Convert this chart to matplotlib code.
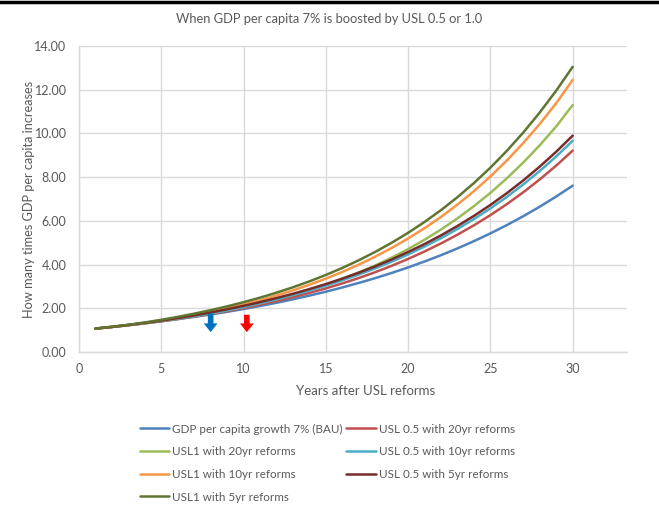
import matplotlib
matplotlib.use("Agg")
import matplotlib.pyplot as plt
from matplotlib.patches import FancyArrowPatch
from matplotlib.lines import Line2D

plt.rcParams['font.family'] = ['Lato', 'DejaVu Sans']

years = list(range(1, 31))

gdp_bau = [1.070, 1.145, 1.225, 1.311, 1.403, 1.501, 1.606, 1.718, 1.838, 1.967,
           2.105, 2.252, 2.410, 2.579, 2.759, 2.952, 3.159, 3.380, 3.617, 3.870,
           4.141, 4.430, 4.741, 5.072, 5.427, 5.807, 6.214, 6.649, 7.114, 7.612]
usl05_20 = [1.070, 1.146, 1.228, 1.316, 1.411, 1.514, 1.625, 1.744, 1.874, 2.015,
            2.167, 2.331, 2.509, 2.703, 2.911, 3.138, 3.385, 3.652, 3.943, 4.258,
            4.600, 4.968, 5.368, 5.797, 6.263, 6.765, 7.310, 7.897, 8.530, 9.215]
usl1_20 = [1.071, 1.147, 1.230, 1.321, 1.420, 1.528, 1.645, 1.773, 1.912, 2.066,
           2.234, 2.417, 2.618, 2.839, 3.081, 3.346, 3.640, 3.962, 4.317, 4.708,
           5.137, 5.604, 6.116, 6.673, 7.281, 7.946, 8.670, 9.461, 10.323, 11.300]
usl05_10 = [1.071, 1.147, 1.230, 1.321, 1.420, 1.527, 1.644, 1.771, 1.910, 2.063,
            2.229, 2.408, 2.601, 2.810, 3.035, 3.279, 3.543, 3.827, 4.134, 4.466,
            4.825, 5.211, 5.630, 6.081, 6.569, 7.097, 7.667, 8.282, 8.947, 9.665]
usl1_10 = [1.071, 1.149, 1.236, 1.332, 1.438, 1.555, 1.685, 1.829, 1.990, 2.170,
           2.368, 2.583, 2.819, 3.077, 3.356, 3.662, 3.996, 4.361, 4.759, 5.192,
           5.666, 6.181, 6.746, 7.360, 8.031, 8.763, 9.563, 10.435, 11.385, 12.450]
usl05_5 = [1.071, 1.149, 1.236, 1.331, 1.437, 1.552, 1.677, 1.811, 1.956, 2.113,
           2.283, 2.466, 2.664, 2.878, 3.109, 3.358, 3.628, 3.919, 4.234, 4.574,
           4.941, 5.337, 5.767, 6.228, 6.728, 7.268, 7.852, 8.483, 9.163, 9.899]
usl1_5 = [1.072, 1.154, 1.247, 1.353, 1.473, 1.608, 1.754, 1.914, 2.088, 2.279,
          2.487, 2.713, 2.961, 3.231, 3.525, 3.846, 4.197, 4.580, 4.998, 5.454,
          5.951, 6.492, 7.085, 7.730, 8.435, 9.204, 10.044, 10.960, 11.959, 13.049]

series_labels = ["GDP per capita growth 7% (BAU)", "USL 0.5 with 20yr reforms",
                 "USL1 with 20yr reforms", "USL 0.5 with 10yr reforms",
                 "USL1 with 10yr reforms", "USL 0.5 with 5yr reforms",
                 "USL1 with 5yr reforms"]
series_values = [gdp_bau, usl05_20, usl1_20, usl05_10, usl1_10, usl05_5, usl1_5]
series_colors = ["#4F81BD", "#C0504D", "#9BBB59", "#4BACC6", "#F79646", "#772C2A", "#5F7530"]

arrow_x = [8.0, 10.2]
arrow_top = [1.88, 1.83]
arrow_bottom = [0.78, 0.78]
arrow_colors = ["#0070C0", "#FF0000"]

x_ticks = [0, 5, 10, 15, 20, 25, 30]
y_ticks = [0, 2, 4, 6, 8, 10, 12, 14]

title = "When GDP per capita 7% is boosted by USL 0.5 or 1.0"
xlabel = "Years after USL reforms"
ylabel = "How many times GDP per capita increases"

text_color = "#595959"
grid_color = "#D9D9D9"

fig = plt.figure(figsize=(6.59, 5.14), dpi=100)
ax = fig.add_axes([79/659, 1 - 352/514, (627-79)/659, (352-46)/514])

handles = {}
for lab, vals, col in zip(series_labels, series_values, series_colors):
    ln, = ax.plot(years, vals, color=col, lw=1.8, solid_capstyle='round', zorder=3)
    handles[lab] = ln

for x, yt, yb, c in zip(arrow_x, arrow_top, arrow_bottom, arrow_colors):
    arr = FancyArrowPatch((x, yt), (x, yb),
                          arrowstyle="simple,head_width=1.1,head_length=0.7,tail_width=0.45",
                          mutation_scale=9, color=c, lw=0, zorder=5)
    ax.add_patch(arr)

ax.set_xlim(0, 33.3)
ax.set_ylim(0, 14)
ax.set_xticks(x_ticks)
ax.set_yticks(y_ticks)
ax.set_yticklabels([f"{v:.2f}" for v in y_ticks])
ax.grid(True, color=grid_color, lw=1)
ax.set_axisbelow(True)
for s in ["top", "right"]:
    ax.spines[s].set_visible(False)
for s in ["left", "bottom"]:
    ax.spines[s].set_color(grid_color)
    ax.spines[s].set_linewidth(1)
ax.tick_params(axis='y', length=0, labelsize=9, colors=text_color, pad=9)
ax.tick_params(axis='x', length=0, labelsize=9, colors=text_color, pad=8)

ax.set_xlabel(xlabel, fontsize=9.5, color=text_color)
ax.xaxis.set_label_coords((366 - 79) / 548, -(385 - 352) / 306)
ax.set_ylabel(ylabel, fontsize=9.2, color=text_color, va="center")
ax.yaxis.set_label_coords(-(79 - 29) / 548, 0.5)
fig.text(0.5, 1 - 19/514, title, ha="center", va="center", fontsize=9.3, color=text_color)

# top black border line
fig.add_artist(Line2D([0, 1], [1 - 1.5/514, 1 - 1.5/514], transform=fig.transFigure,
                      color="black", lw=2.5))

order = [0, 2, 4, 6, 1, 3, 5]
leg = fig.legend([handles[series_labels[i]] for i in order],
                 [series_labels[i] for i in order],
                 loc="upper center", bbox_to_anchor=(0.497, 1 - 413/514), ncol=2,
                 frameon=False, fontsize=8.4, handlelength=2.5, handletextpad=0.3,
                 columnspacing=0.3, labelspacing=1.0, labelcolor=text_color)

fig.savefig("out.png", dpi=100, facecolor="white")
